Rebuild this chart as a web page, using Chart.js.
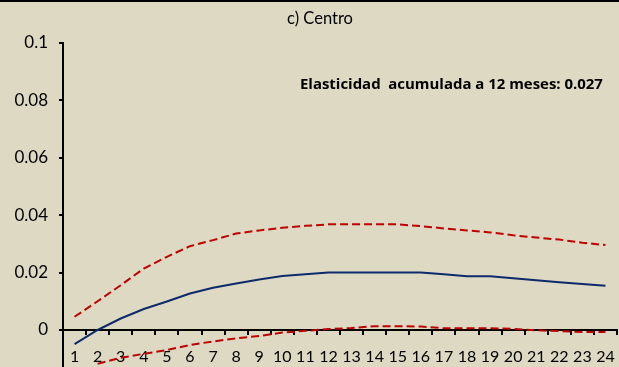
<!DOCTYPE html>
<html>
<head>
<meta charset="utf-8">
<script src="https://cdn.jsdelivr.net/npm/chart.js@4/dist/chart.umd.min.js"></script>
<style>
  html, body { margin: 0; padding: 0; background: #ddd9c3; overflow: hidden; }
  #wrap { width: 619px; height: 367px; position: relative; overflow: hidden; }
  #c { display: block; }
</style>
</head>
<body>
<div id="wrap"><canvas id="c" width="619" height="367"></canvas></div>
<script>
const categories = ['1','2','3','4','5','6','7','8','9','10','11','12','13','14','15','16','17','18','19','20','21','22','23','24'];
const central = [-0.0049, 0.0000, 0.0040, 0.0073, 0.0099, 0.0127, 0.0147, 0.0162, 0.0176, 0.0188, 0.0194, 0.0200, 0.0200, 0.0200, 0.0200, 0.0200, 0.0194, 0.0187, 0.0187, 0.0180, 0.0173, 0.0166, 0.0160, 0.0154];
const upper = [0.0046, 0.0100, 0.0156, 0.0214, 0.0255, 0.0292, 0.0313, 0.0336, 0.0347, 0.0356, 0.0363, 0.0368, 0.0368, 0.0368, 0.0368, 0.0362, 0.0354, 0.0347, 0.0340, 0.0330, 0.0322, 0.0315, 0.0304, 0.0296];
const lower = [null, -0.0118, -0.0097, -0.0083, -0.0070, -0.0052, -0.0040, -0.0029, -0.0021, -0.0009, -0.0003, 0.0003, 0.0007, 0.0013, 0.0013, 0.0012, 0.0006, 0.0006, 0.0006, 0.0004, -0.0001, -0.0004, -0.0007, -0.0007];
const yTicks = [0, 0.02, 0.04, 0.06, 0.08, 0.1];
const titleText = 'c) Centro';
const noteText = 'Elasticidad  acumulada a 12 meses: 0.027';

const deco = {
  id: 'deco',
  beforeDraw(chart) {
    const ctx = chart.ctx;
    ctx.save();
    ctx.fillStyle = '#ddd9c3';
    ctx.fillRect(0, 0, chart.width, chart.height);
    ctx.fillStyle = '#000';
    ctx.fillRect(0, 0, chart.width, 2);
    ctx.restore();
  },
  afterDraw(chart) {
    const ctx = chart.ctx;
    ctx.save();
    ctx.fillStyle = '#000';
    ctx.font = '16.5px Lato';
    ctx.textAlign = 'center';
    ctx.textBaseline = 'middle';
    ctx.fillText(titleText, 320, 19);
    let size = 14;
    ctx.font = 'bold ' + size + 'px "Open Sans"';
    const w = ctx.measureText(noteText).width;
    size = size * 303 / w;
    ctx.font = 'bold ' + size.toFixed(2) + 'px "Open Sans"';
    ctx.textAlign = 'left';
    ctx.textBaseline = 'alphabetic';
    ctx.fillText(noteText, 300, 89);
    ctx.restore();
  }
};

new Chart(document.getElementById('c'), {
  type: 'line',
  data: {
    labels: categories,
    datasets: [
      { label: 'Central', data: central, borderColor: '#0d2a6b', borderWidth: 2, pointRadius: 0, tension: 0, fill: false },
      { label: 'Superior', data: upper, borderColor: '#c00000', borderWidth: 2, borderDash: [8, 4], pointRadius: 0, tension: 0, fill: false },
      { label: 'Inferior', data: lower, borderColor: '#c00000', borderWidth: 2, borderDash: [8, 4], pointRadius: 0, tension: 0, fill: false, spanGaps: false }
    ]
  },
  options: {
    responsive: false,
    animation: false,
    devicePixelRatio: 1,
    layout: { padding: { top: 43, right: 2, bottom: 0, left: 0 } },
    plugins: { legend: { display: false }, title: { display: false }, tooltip: { enabled: false } },
    scales: {
      y: {
        min: -0.0129,
        max: 0.1,
        afterBuildTicks(scale) { scale.ticks = yTicks.map(v => ({ value: v })); },
        afterFit(scale) { scale.width = 63; scale.paddingTop = 0; scale.paddingBottom = 0; },
        grid: { drawOnChartArea: false, drawTicks: true, tickLength: 4, color: '#000', lineWidth: 2 },
        border: { color: '#000', width: 2 },
        ticks: { color: '#000', padding: 11, font: { family: 'Lato', size: 17 }, callback: v => String(+v.toFixed(2)) }
      },
      x: {
        type: 'category',
        position: { y: 0 },
        offset: true,
        afterFit(scale) { scale.paddingLeft = 0; scale.paddingRight = 0; },
        grid: { drawOnChartArea: false, drawTicks: true, tickLength: 4, offset: true, color: '#000', lineWidth: 2 },
        border: { color: '#000', width: 2 },
        ticks: { color: '#000', padding: 13, maxRotation: 0, autoSkip: false, font: { family: 'Lato', size: 16 } }
      }
    }
  },
  plugins: [deco]
});
</script>
</body>
</html>
